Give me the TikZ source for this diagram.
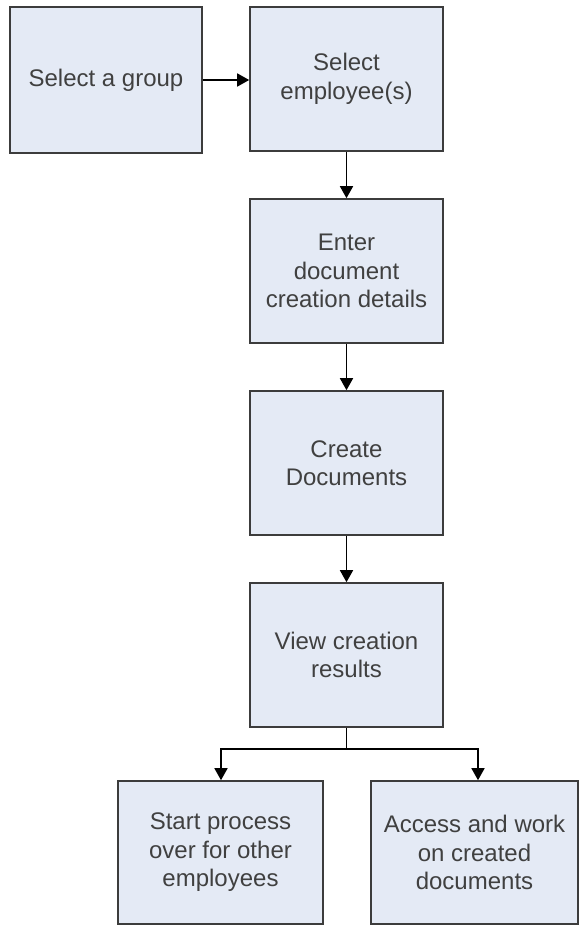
\documentclass[tikz,border=0pt]{standalone}
\usepackage{fontspec}
\setmainfont{Liberation Sans}
\usetikzlibrary{arrows.meta}
\definecolor{boxfill}{HTML}{E4EAF5}
\definecolor{boxline}{HTML}{3C3C3C}
\definecolor{txt}{HTML}{404040}
\tikzset{
  stepbox/.style={draw=boxline, fill=boxfill, line width=1.6pt, inner sep=0pt,
    minimum width=193pt, minimum height=144pt, align=center, text=txt,
    font=\fontsize{24}{28.5}\selectfont},
  conn/.style={line width=1.6pt, black, -{Triangle[length=12pt,width=13pt]}},
  plainconn/.style={line width=1.6pt, black}
}
\begin{document}
\begin{tikzpicture}[x=1pt,y=-1pt]
\useasboundingbox (0,0) rectangle (580,926);
\node[stepbox, minimum width=192pt, minimum height=146pt] (a) at (106,80) {Select a group};
\node[stepbox] (b) at (346.5,79) {Select\\employee(s)};
\node[stepbox] (c) at (346.5,271) {Enter\\document\\creation details};
\node[stepbox] (d) at (346.5,463) {Create\\Documents};
\node[stepbox] (e) at (346.5,655) {View creation\\results};
\node[stepbox, minimum width=205pt, minimum height=143pt] (f) at (220.5,852.5) {Start process\\over for other\\employees};
\node[stepbox, minimum width=207pt, minimum height=143pt] (g) at (474.5,852.5) {Access and work\\on created\\documents};
\coordinate (j) at (346.5,749);
\coordinate (jl) at (221,749);
\coordinate (jr) at (478,749);
\draw[conn] (a.east |- 0,80) -- (b.west |- 0,80);
\draw[conn] (b) -- (c);
\draw[conn] (c) -- (d);
\draw[conn] (d) -- (e);
\draw[plainconn] (e.south) -- (j);
\draw[conn] (j) -- (jl) -- (jl |- f.north);
\draw[conn] (j) -- (jr) -- (jr |- g.north);
\end{tikzpicture}
\end{document}
